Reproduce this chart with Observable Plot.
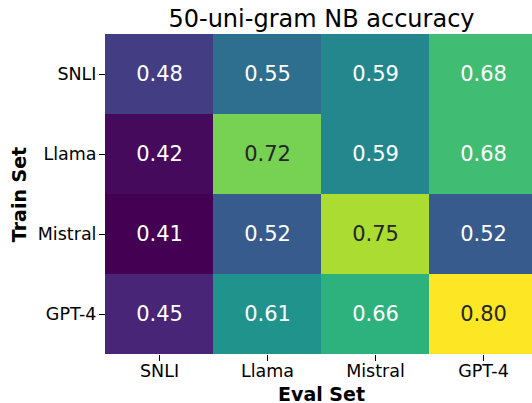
<!DOCTYPE html>
<html>
<head>
<meta charset="utf-8">
<script src="https://cdn.jsdelivr.net/npm/d3@7"></script>
<script src="https://cdn.jsdelivr.net/npm/@observablehq/plot@0.6"></script>
<style>
  html, body { margin: 0; padding: 0; overflow: hidden; background: white; }
</style>
</head>
<body>
<div id="chart"></div>
<script>
const title = "50-uni-gram NB accuracy";
const trainSets = ["SNLI", "Llama", "Mistral", "GPT-4"];
const evalSets = ["SNLI", "Llama", "Mistral", "GPT-4"];
const accSNLI = [0.48, 0.55, 0.59, 0.68];
const accLlama = [0.42, 0.72, 0.59, 0.68];
const accMistral = [0.41, 0.52, 0.75, 0.52];
const accGPT4 = [0.45, 0.61, 0.66, 0.80];
const xLabel = "Eval Set";
const yLabel = "Train Set";

const rows = [accSNLI, accLlama, accMistral, accGPT4];
const data = [];
rows.forEach((vals, i) => vals.forEach((v, j) => data.push({train: trainSets[i], eval: evalSets[j], value: v})));

const vmin = d3.min(data, d => d.value);
const vmax = d3.max(data, d => d.value);

function lum(color) {
  const c = d3.rgb(color);
  const f = x => { x /= 255; return x <= 0.03928 ? x / 12.92 : Math.pow((x + 0.055) / 1.055, 2.4); };
  return 0.2126 * f(c.r) + 0.7152 * f(c.g) + 0.0722 * f(c.b);
}
const isDark = d => lum(d3.interpolateViridis((d.value - vmin) / (vmax - vmin))) > 0.408;
const fmt = d => d.value.toFixed(2);

const chart = Plot.plot({
  width: 537,
  height: 403,
  marginLeft: 105,
  marginRight: 0,
  marginTop: 33,
  marginBottom: 48,
  style: {fontFamily: "DejaVu Sans", maxWidth: "none", background: "white", color: "black"},
  x: {domain: evalSets, padding: 0, label: null},
  y: {domain: trainSets, padding: 0, label: null},
  color: {type: "linear", scheme: "viridis", domain: [vmin, vmax]},
  marks: [
    Plot.cell(data, {x: "eval", y: "train", fill: "value", inset: 0}),
    Plot.text(data, {x: "eval", y: "train", text: fmt, filter: d => !isDark(d), fill: "white", fontSize: 21}),
    Plot.text(data, {x: "eval", y: "train", text: fmt, filter: d => isDark(d), fill: "#262626", fontSize: 21}),
    Plot.axisX({tickSize: 6, tickPadding: 3, fontSize: 17.5, label: null}),
    Plot.axisY({tickSize: 6, tickPadding: 3, fontSize: 17.5, label: null}),
    Plot.text([title], {frameAnchor: "top", textAnchor: "middle", lineAnchor: "middle", dy: -14, fontSize: 24, fill: "black"}),
    Plot.text([xLabel], {frameAnchor: "bottom", textAnchor: "middle", lineAnchor: "middle", dy: 39, fontSize: 19, fontWeight: "bold", fill: "black"}),
    Plot.text([yLabel], {frameAnchor: "left", textAnchor: "middle", lineAnchor: "middle", dx: -86, rotate: -90, fontSize: 19, fontWeight: "bold", fill: "black"})
  ]
});
document.getElementById("chart").appendChild(chart);
</script>
</body>
</html>
